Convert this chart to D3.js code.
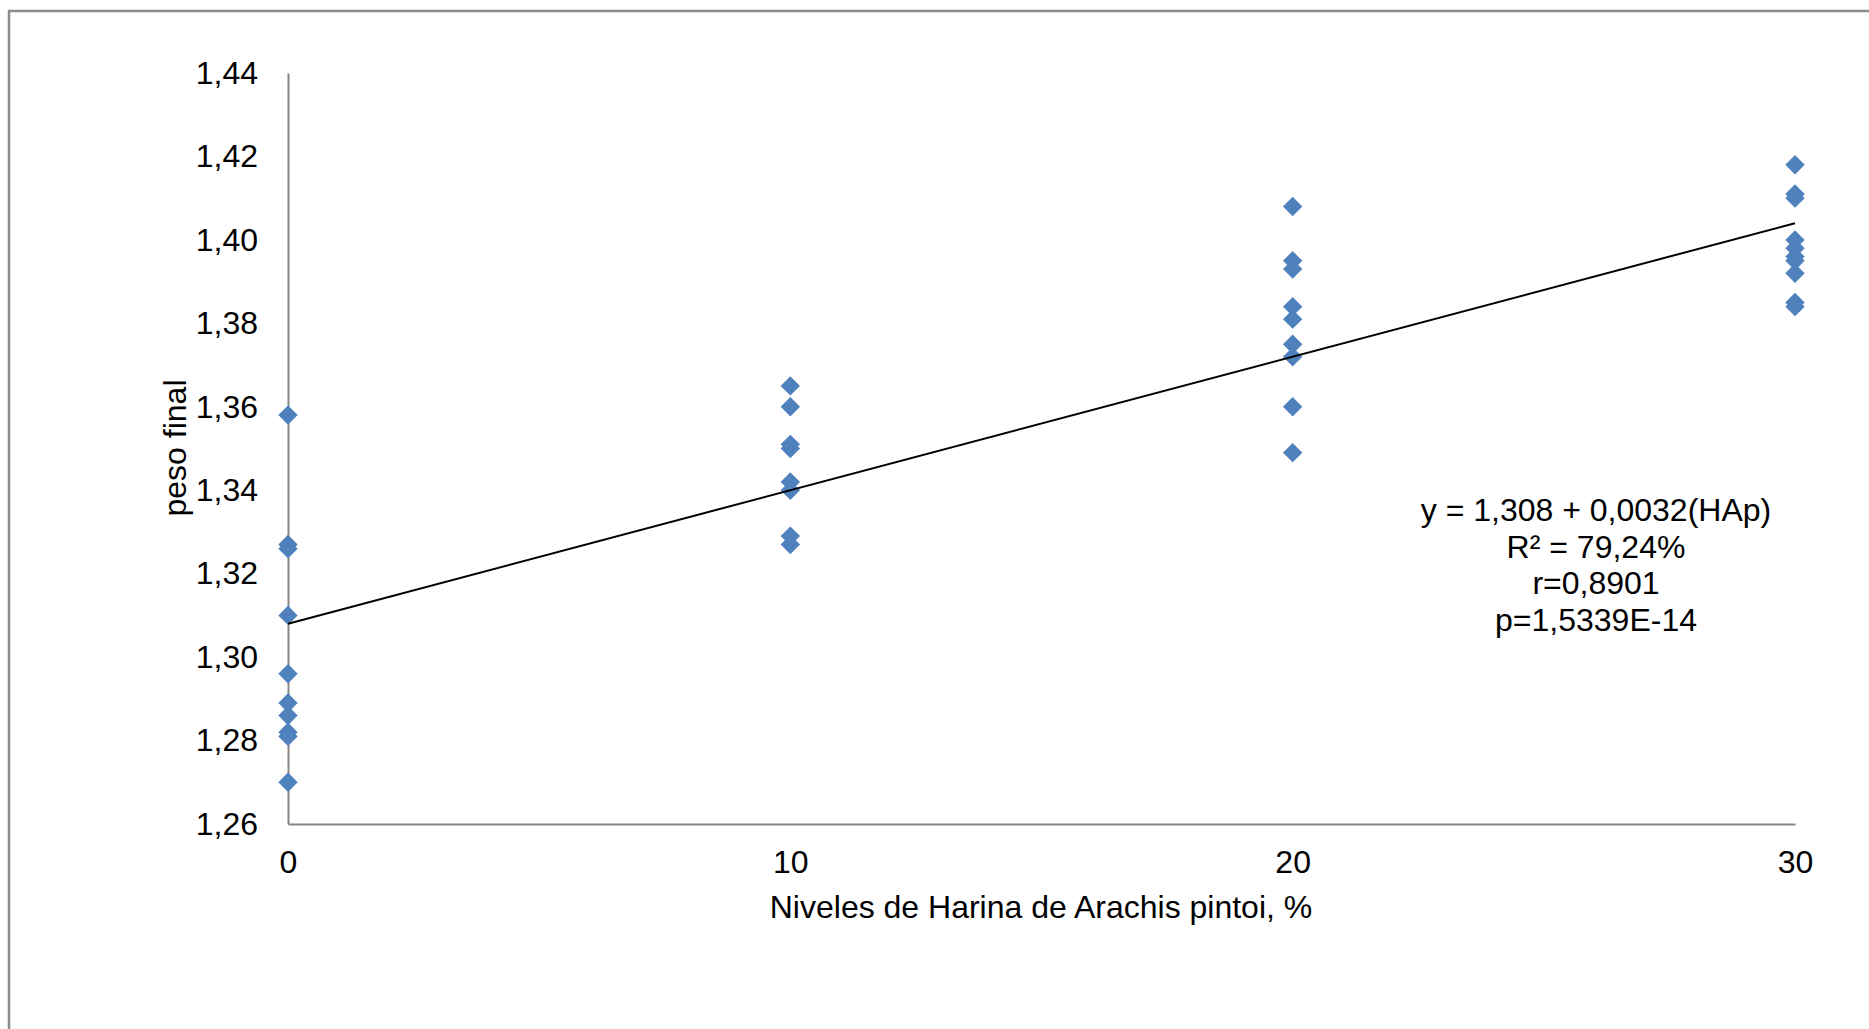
<!DOCTYPE html>
<html>
<head>
<meta charset="utf-8">
<script src="https://cdn.jsdelivr.net/npm/d3@7"></script>
<style>
  html, body { margin: 0; padding: 0; background: #fff; }
  svg { display: block; }
  text { font-family: "Liberation Sans", Arial, sans-serif; fill: #000; }
</style>
</head>
<body>
<svg id="chart" width="1869" height="1029"></svg>
<script>
// Final weight by inclusion level of Arachis pintoi meal
const levels = [0, 10, 20, 30];
const pesoNivel0  = [1.358, 1.327, 1.326, 1.310, 1.296, 1.289, 1.286, 1.282, 1.281, 1.270];
const pesoNivel10 = [1.365, 1.360, 1.351, 1.350, 1.342, 1.340, 1.329, 1.327];
const pesoNivel20 = [1.408, 1.395, 1.393, 1.384, 1.381, 1.375, 1.372, 1.360, 1.349];
const pesoNivel30 = [1.418, 1.411, 1.410, 1.400, 1.398, 1.396, 1.395, 1.392, 1.385, 1.384];

const yTicks = [1.26, 1.28, 1.30, 1.32, 1.34, 1.36, 1.38, 1.40, 1.42, 1.44];
const xTicks = [0, 10, 20, 30];

// Fitted model y = a + b·HAp
const intercept = 1.308;
const slope = 0.0032;
const statLines = ["y = 1,308 + 0,0032(HAp)", "R² = 79,24%", "r=0,8901", "p=1,5339E-14"];

const xTitle = "Niveles de Harina de Arachis pintoi, %";
const yTitle = "peso final";

const groups = [pesoNivel0, pesoNivel10, pesoNivel20, pesoNivel30];
const points = [];
groups.forEach((vals, i) => vals.forEach(v => points.push({ x: levels[i], y: v })));

const FONT = "32px";
const svg = d3.select("#chart");

// outer chart frame (right and bottom edges run past the view)
svg.append("rect")
  .attr("x", 9).attr("y", 11)
  .attr("width", 1900).attr("height", 1100)
  .attr("fill", "none").attr("stroke", "#8c8c8c").attr("stroke-width", 2.5);

const x = d3.scaleLinear().domain([0, 30]).range([288, 1795]);
const y = d3.scaleLinear().domain([1.26, 1.44]).range([824, 73]);

const comma = d => d3.format(".2f")(d).replace(".", ",");

// y axis
const yAxis = svg.append("g")
  .attr("transform", `translate(${x(0)},0)`)
  .call(d3.axisLeft(y).tickValues(yTicks).tickSize(0).tickPadding(30).tickFormat(comma));
yAxis.select(".domain").attr("stroke", "#868686").attr("stroke-width", 2);
yAxis.selectAll("text").style("font-size", FONT).attr("fill", "#000")
  .style("font-family", "'Liberation Sans', Arial, sans-serif");

// x axis
const xAxis = svg.append("g")
  .attr("transform", `translate(0,${y(1.26)})`)
  .call(d3.axisBottom(x).tickValues(xTicks).tickSize(0).tickPadding(26).tickFormat(d3.format("d")));
xAxis.select(".domain").attr("stroke", "#868686").attr("stroke-width", 2);
xAxis.selectAll("text").style("font-size", FONT).attr("fill", "#000")
  .style("font-family", "'Liberation Sans', Arial, sans-serif");

// axis titles
svg.append("text")
  .attr("x", 1041).attr("y", 918)
  .attr("text-anchor", "middle")
  .style("font-size", FONT)
  .text(xTitle);

svg.append("text")
  .attr("transform", `translate(186,448) rotate(-90)`)
  .attr("text-anchor", "middle")
  .style("font-size", FONT)
  .text(yTitle);

// observations as diamonds
const diamond = d3.symbol().type(d3.symbolDiamond2).size(240);
svg.append("g").selectAll("path")
  .data(points)
  .join("path")
  .attr("d", diamond)
  .attr("transform", d => `translate(${x(d.x)},${y(d.y)})`)
  .attr("fill", "#4f81bd");

// regression line
svg.append("line")
  .attr("x1", x(0)).attr("y1", y(intercept))
  .attr("x2", x(30)).attr("y2", y(intercept + slope * 30))
  .attr("stroke", "#000").attr("stroke-width", 2);

// model statistics
const stats = svg.append("text")
  .attr("text-anchor", "middle")
  .style("font-size", FONT);
statLines.forEach((s, i) => {
  stats.append("tspan").attr("x", 1596).attr("y", 521 + i * 36.5).text(s);
});
</script>
</body>
</html>
